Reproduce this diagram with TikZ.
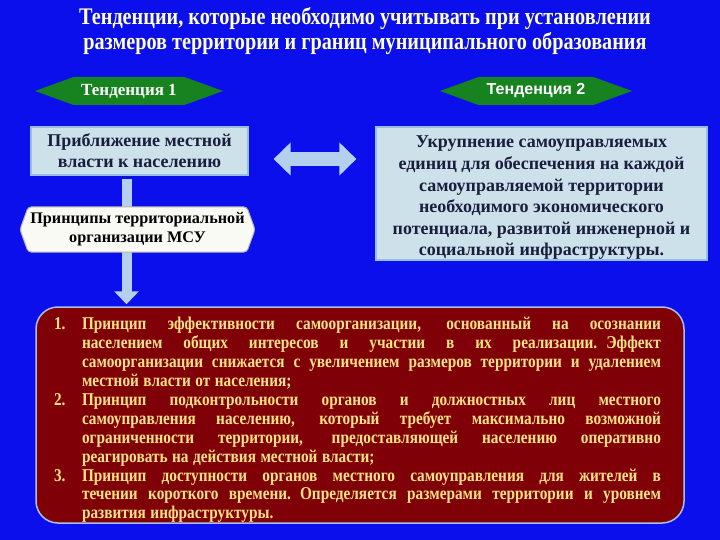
\documentclass[tikz,border=0pt]{standalone}
\usepackage{fontspec}
\setmainfont{Liberation Serif}
\newfontfamily\narrowserif{Liberation Serif}[FakeStretch=0.85]
\newfontfamily\slidesans{Liberation Sans}
\usetikzlibrary{shapes.symbols,arrows.meta}

\definecolor{slideblue}{RGB}{10,15,235}
\definecolor{titleyellow}{RGB}{255,255,200}
\definecolor{tendgreen}{RGB}{22,130,32}
\definecolor{boxfill}{RGB}{205,225,235}
\definecolor{boxline}{RGB}{150,190,228}
\definecolor{boxtext}{RGB}{25,30,60}
\definecolor{arrowfill}{RGB}{180,208,238}
\definecolor{cardfill}{RGB}{250,250,244}
\definecolor{listred}{RGB}{128,0,8}
\definecolor{listline}{RGB}{175,190,232}
\definecolor{listtext}{RGB}{255,226,130}

\newcommand\itemno[1]{\noindent\hangindent=28pt\hangafter=1\makebox[28pt][l]{#1}}

\tikzset{
  titletext/.style={align=center, text=titleyellow, font=\narrowserif\bfseries\fontsize{23.8}{25}\selectfont},
  tendbanner/.style={signal, signal to=west and east, signal pointer angle=40,
    fill=tendgreen, text=white, minimum width=188pt, minimum height=28pt, inner sep=0pt},
  lightbox/.style={rectangle, fill=boxfill, draw=boxline, line width=1.2pt, text=boxtext,
    align=center, inner sep=0pt},
  whitecard/.style={signal, signal to=west and east, signal pointer angle=140,
    fill=cardfill, draw=gray!60, line width=1pt, rounded corners=3pt, align=center,
    minimum width=235pt, minimum height=45pt, inner sep=0pt,
    font=\bfseries\fontsize{16.2}{19}\selectfont},
  fatarrow/.style={draw=arrowfill},
  listbox/.style={rectangle, rounded corners=22pt, fill=listred, draw=listline, line width=1.5pt,
    minimum width=648pt, minimum height=216pt},
  listtext/.style={text=listtext, text width=607pt, inner sep=0pt,
    font=\narrowserif\bfseries\fontsize{18}{18.9}\selectfont}
}

\begin{document}
\begin{tikzpicture}[x=1pt,y=-1pt]
\fill[slideblue] (0,0) rectangle (720,540);
\useasboundingbox (0,0) rectangle (720,540);

\node[titletext] (title) at (365,31.5) {Тенденции, которые необходимо учитывать при установлении\\размеров территории и границ муниципального образования};

\node[tendbanner, font=\bfseries\fontsize{17}{19}\selectfont] (tend1) at (129,91) {Тенденция 1};
\node[tendbanner, minimum width=192pt, font=\slidesans\bfseries\fontsize{16}{18}\selectfont] (tend2) at (536,91) {Тенденция 2};

\node[lightbox, minimum width=217pt, minimum height=48pt, font=\bfseries\fontsize{18}{21}\selectfont] (near) at (139.5,151) {Приближение местной\\власти к населению};
\node[lightbox, minimum width=331pt, minimum height=133pt, font=\bfseries\fontsize{18}{21.6}\selectfont] (large) at (541.5,193.5) {\raisebox{-4pt}[\height][\depth]{\begin{tabular}{@{}c@{}}Укрупнение самоуправляемых\\единиц для обеспечения на каждой\\самоуправляемой территории\\необходимого экономического\\потенциала, развитой инженерной и\\социальной инфраструктуры.\end{tabular}}};

\node[listbox] (list) at (360,415) {};

\draw[fatarrow, line width=14pt, {Triangle[width=32pt,length=17pt]}-{Triangle[width=32pt,length=17pt]}]
  ([xshift=25pt,yshift=-8pt]near.east) -- ([xshift=-19pt,yshift=-8pt]near.east -| large.west);
\draw[fatarrow, line width=10pt, -{Triangle[width=24pt,length=13pt]}]
  ([xshift=-13pt,yshift=-3pt]near.south) -- ([xshift=-13pt,yshift=2pt]near.south |- list.north);

\node[whitecard] (msu) at (137.5,229.5) {Принципы территориальной\\организации МСУ};

\node[listtext] (items) at (357.5,420) {\spaceskip=0.25em plus 1fil\relax\parfillskip=0pt plus 1fill\relax
\itemno{1.}Принцип эффективности самоорганизации, основанный на осознании\linebreak населением общих интересов и участии в их реализации. Эффект\linebreak самоорганизации снижается с увеличением размеров территории и удалением\linebreak местной власти от населения;\par
\itemno{2.}Принцип подконтрольности органов и должностных лиц местного\linebreak самоуправления населению, который требует максимально возможной\linebreak ограниченности территории, предоставляющей населению оперативно\linebreak реагировать на действия местной власти;\par
\itemno{3.}Принцип доступности органов местного самоуправления для жителей в\linebreak течении короткого времени. Определяется размерами территории и уровнем\linebreak развития инфраструктуры.\par};
\end{tikzpicture}
\end{document}
